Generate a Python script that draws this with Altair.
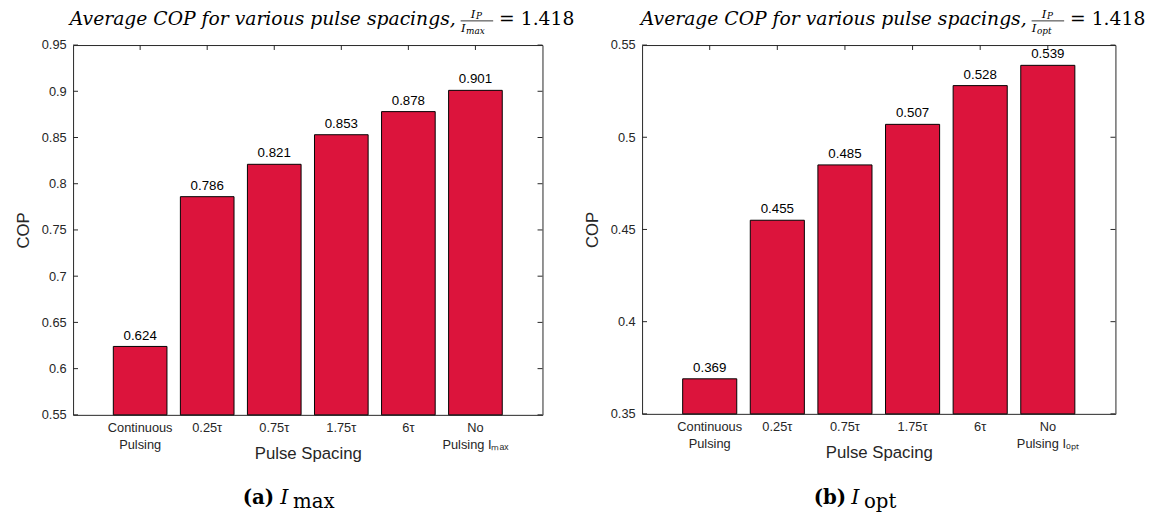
import altair as alt
import pandas as pd

# ---------------- data ----------------
cats_a = ["Continuous\nPulsing", "0.25τ", "0.75τ", "1.75τ", "6τ", "No\nPulsing Iₘₐₓ"]
vals_a = [0.624, 0.786, 0.821, 0.853, 0.878, 0.901]
ticks_a = [0.55, 0.6, 0.65, 0.7, 0.75, 0.8, 0.85, 0.9, 0.95]

cats_b = ["Continuous\nPulsing", "0.25τ", "0.75τ", "1.75τ", "6τ", "No\nPulsing Iₒₚₜ"]
vals_b = [0.369, 0.455, 0.485, 0.507, 0.528, 0.539]
ticks_b = [0.35, 0.4, 0.45, 0.5, 0.55]

ratio_text = "= 1.418"
title_text = "Average COP for various pulse spacings,"

BAR = "#DC143C"
INK = "#262626"
SANS = "Liberation Sans"
SERIF = "DejaVu Serif"
one = pd.DataFrame({"k": [0]})


def txt(s, x, y, size, font=SERIF, style="normal", weight="normal", align="left", color="black"):
    return alt.Chart(one).mark_text(
        text=s, fontSize=size, font=font, fontStyle=style, fontWeight=weight,
        align=align, baseline="alphabetic", color=color
    ).encode(x=alt.value(x), y=alt.value(y))


def panel(cats, vals, ticks, width, height, den_sub, letter, cap_sub):
    ymin, ymax = ticks[0], ticks[-1]
    df = pd.DataFrame({"cat": cats, "val": vals, "base": [ymin] * len(vals)})
    tdf = pd.DataFrame({"val": ticks})

    xenc = alt.X(
        "cat:N", sort=cats,
        scale=alt.Scale(paddingInner=0.2, paddingOuter=0.6),
        axis=alt.Axis(
            title="Pulse Spacing", labelAngle=0, ticks=False, domain=False,
            labelExpr="split(datum.label, '\\n')", labelFont=SANS, labelFontSize=13,
            labelColor=INK, labelPadding=7, labelLineHeight=17, labelBaseline="top",
            titleFont=SANS, titleFontSize=17, titleFontWeight="normal", titleColor=INK,
            titleY=31,
        ),
    )
    yscale = alt.Scale(domain=[ymin, ymax], zero=False, nice=False)
    yenc = alt.Y(
        "val:Q", scale=yscale,
        axis=alt.Axis(
            title="COP", values=ticks, grid=False, ticks=False, domain=False,
            labelExpr="format(datum.value, '.2~f')", labelFont=SANS, labelFontSize=13,
            labelColor=INK, labelPadding=7,
            titleFont=SANS, titleFontSize=17, titleFontWeight="normal", titleColor=INK,
            titlePadding=9,
        ),
    )

    bars = alt.Chart(df).mark_bar(color=BAR, stroke="black", strokeWidth=1).encode(
        x=xenc, y=yenc, y2="base:Q"
    )
    vlabels = alt.Chart(df).mark_text(
        baseline="bottom", dy=-4, font=SANS, fontSize=13.5, color="black"
    ).encode(
        x=alt.X("cat:N", sort=cats), y=alt.Y("val:Q", scale=yscale),
        text=alt.Text("val:Q", format=".3f"),
    )
    lt = alt.Chart(tdf).mark_rule(color=INK, strokeWidth=1).encode(
        y=alt.Y("val:Q", scale=yscale), x=alt.value(0), x2=alt.value(5)
    )
    rt = alt.Chart(tdf).mark_rule(color=INK, strokeWidth=1).encode(
        y=alt.Y("val:Q", scale=yscale), x=alt.value(width - 5), x2=alt.value(width)
    )
    tt = alt.Chart(df).mark_rule(color=INK, strokeWidth=1).encode(
        x=alt.X("cat:N", sort=cats), y=alt.value(0), y2=alt.value(5)
    )

    c = width / 2
    title_layers = [
        txt(title_text, c + 150, -20, 19, style="italic", align="right"),
        # numerator I_P
        txt("I", c + 170, -27.5, 12, style="italic", align="right"),
        txt("P", c + 170.5, -26, 9, style="italic"),
        # denominator I_max / I_opt
        txt("I", c + 160, -13, 12, style="italic", align="right"),
        txt(den_sub, c + 160.5, -11.5, 9, style="italic"),
        alt.Chart(one).mark_rule(color="black", strokeWidth=0.8).encode(
            x=alt.value(c + 155), x2=alt.value(c + 188), y=alt.value(-24.5)
        ),
        txt(ratio_text, c + 194, -20, 19),
        # caption
        txt("(" + letter + ")", c - 66, 465, 20, weight="bold"),
        txt("I", c - 28, 465, 21, style="italic"),
        txt(cap_sub, c - 15, 469, 20),
    ]

    return alt.layer(bars, vlabels, lt, rt, tt, *title_layers).properties(
        width=width, height=height
    )


a = panel(cats_a, vals_a, ticks_a, 476, 375, "max", "a", "max")
b = panel(cats_b, vals_b, ticks_b, 480, 374, "opt", "b", "opt")

chart = (
    alt.hconcat(a, b, spacing=101, bounds="flush")
    .properties(padding={"left": 6, "top": -4, "right": 0, "bottom": 0})
    .configure_view(stroke=INK, strokeWidth=1)
)

chart.save("out.html", embed_options={"renderer": "svg", "actions": False})
